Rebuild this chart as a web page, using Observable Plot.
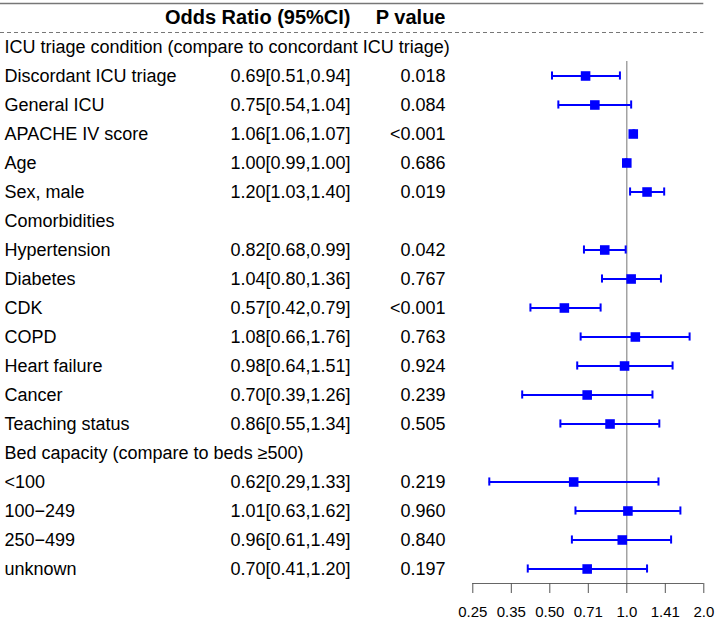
<!DOCTYPE html>
<html>
<head>
<meta charset="utf-8">
<script src="https://cdn.jsdelivr.net/npm/d3@7"></script>
<script src="https://cdn.jsdelivr.net/npm/@observablehq/plot@0.6"></script>
<style>
  body { margin: 0; background: #fff; }
  #chart svg { display: block; }
</style>
</head>
<body>
<div id="chart"></div>
<script>
// Table rows; group headings have no estimate (null).
const labels = [
  "ICU triage condition (compare to concordant ICU triage)",
  "Discordant ICU triage",
  "General ICU",
  "APACHE IV score",
  "Age",
  "Sex, male",
  "Comorbidities",
  "Hypertension",
  "Diabetes",
  "CDK",
  "COPD",
  "Heart failure",
  "Cancer",
  "Teaching status",
  "Bed capacity (compare to beds \u2265500)",
  "<100",
  "100\u2212249",
  "250\u2212499",
  "unknown"
];
const oddsRatios = [null, 0.69, 0.75, 1.06, 1.00, 1.20, null, 0.82, 1.04, 0.57, 1.08, 0.98, 0.70, 0.86, null, 0.62, 1.01, 0.96, 0.70];
const lowerCI    = [null, 0.51, 0.54, 1.06, 0.99, 1.03, null, 0.68, 0.80, 0.42, 0.66, 0.64, 0.39, 0.55, null, 0.29, 0.63, 0.61, 0.41];
const upperCI    = [null, 0.94, 1.04, 1.07, 1.00, 1.40, null, 0.99, 1.36, 0.79, 1.76, 1.51, 1.26, 1.34, null, 1.33, 1.62, 1.49, 1.20];
const pValues    = [null, "0.018", "0.084", "<0.001", "0.686", "0.019", null, "0.042", "0.767", "<0.001", "0.763", "0.924", "0.239", "0.505", null, "0.219", "0.960", "0.840", "0.197"];

// Axis ticks (log scale, steps of sqrt 2)
const tickValues = [0.25, 0.3536, 0.5, 0.7071, 1, 1.4142, 2];
const tickLabels = ["0.25", "0.35", "0.50", "0.71", "1.0", "1.41", "2.0"];

const headers = ["Odds Ratio (95%CI)", "P value"];

const rows = labels.map((label, i) => ({
  row: i,
  label,
  or: oddsRatios[i],
  lo: lowerCI[i],
  hi: upperCI[i],
  p: pValues[i]
}));
const estimates = rows.filter(d => d.or != null);
const fmt = d3.format(".2f");

// Column anchors for the table text (pixels from the left edge)
const col = {label: 4, or: 350, p: 445};
const width = 717;
const xRange = [472.3, 703.3];
const capHalf = 0.14;
const axisRow = rows.length - 0.5;

const chart = Plot.plot({
  width,
  height: 625,
  marginTop: 3,
  marginBottom: 42,
  marginLeft: 0,
  marginRight: width - xRange[1],
  style: {fontFamily: "'Liberation Sans', Arial, sans-serif", fontSize: "15px", background: "white", color: "black"},
  x: {type: "log", domain: [tickValues[0], tickValues[tickValues.length - 1]], range: xRange},
  y: {domain: [-1.5, axisRow], reverse: true, axis: null},
  marks: [
    // top border and dashed header separator across the frame
    Plot.ruleY([-1.5], {stroke: "#777", strokeWidth: 1.5}),
    Plot.ruleY([-0.5], {stroke: "#777", strokeWidth: 1.2, strokeDasharray: "4,3"}),
    // column headers
    Plot.text([headers[0]], {text: d => d, y: -1, frameAnchor: "left", dx: col.or, textAnchor: "end", fontWeight: "bold", fontSize: 20}),
    Plot.text([headers[1]], {text: d => d, y: -1, frameAnchor: "left", dx: col.p, textAnchor: "end", fontWeight: "bold", fontSize: 20}),
    // table text
    Plot.text(rows, {y: "row", text: "label", frameAnchor: "left", dx: col.label, textAnchor: "start", fontSize: 18}),
    Plot.text(estimates, {y: "row", text: d => `${fmt(d.or)}[${fmt(d.lo)},${fmt(d.hi)}]`, frameAnchor: "left", dx: col.or, textAnchor: "end", fontSize: 18}),
    Plot.text(estimates, {y: "row", text: "p", frameAnchor: "left", dx: col.p, textAnchor: "end", fontSize: 18}),
    // no-effect line and axis line
    Plot.ruleX([1], {y1: 0.5, y2: axisRow, stroke: "#8c8c8c", strokeWidth: 1.2}),
    Plot.ruleY([axisRow], {x1: tickValues[0], x2: tickValues[tickValues.length - 1], stroke: "#666", strokeWidth: 1.2}),
    Plot.axisX({
      ticks: tickValues,
      tickFormat: d => tickLabels[tickValues.indexOf(d)],
      tickSize: 10,
      tickPadding: 13,
      fontSize: 15,
      stroke: "#555",
      fill: "black",
      label: null
    }),
    // confidence intervals with end caps
    Plot.ruleY(estimates, {y: "row", x1: "lo", x2: "hi", stroke: "blue", strokeWidth: 2}),
    Plot.ruleX(estimates, {x: "lo", y1: d => d.row - capHalf, y2: d => d.row + capHalf, stroke: "blue", strokeWidth: 2}),
    Plot.ruleX(estimates, {x: "hi", y1: d => d.row - capHalf, y2: d => d.row + capHalf, stroke: "blue", strokeWidth: 2}),
    // point estimates
    Plot.dot(estimates, {x: "or", y: "row", symbol: "square", r: 5.4, fill: "blue"})
  ]
});

document.getElementById("chart").append(chart);
</script>
</body>
</html>
